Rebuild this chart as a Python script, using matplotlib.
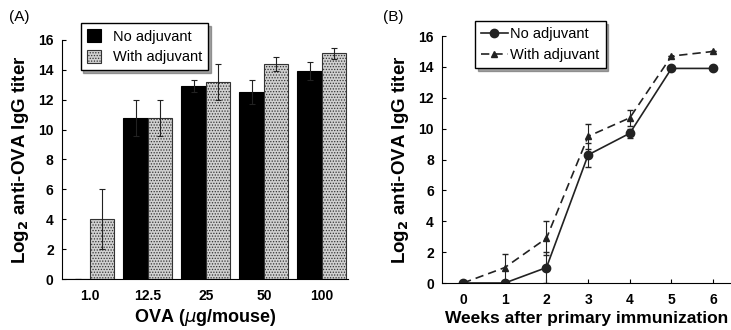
from matplotlib import pyplot as plt
import numpy

plt.rcParams['font.family'] = ['Liberation Sans', 'DejaVu Sans']
plt.rcParams['hatch.color'] = '#808080'
plt.rcParams['hatch.linewidth'] = 0.6

# panel A data
doses = ['1.0', '12.5', '25', '50', '100']
no_adj_A = [0.0, 10.8, 12.9, 12.5, 13.9]
no_adj_A_err = [0.0, 1.2, 0.4, 0.8, 0.6]
with_adj_A = [4.0, 10.8, 13.2, 14.4, 15.1]
with_adj_A_err = [2.0, 1.2, 1.2, 0.45, 0.35]

# panel B data
weeks = [0, 1, 2, 3, 4, 5, 6]
no_adj_B = [0.0, 0.0, 1.0, 8.3, 9.7, 13.9, 13.9]
no_adj_B_err = [0.0, 0.0, 1.0, 0.8, 0.3, 0.0, 0.0]
with_adj_B = [0.0, 1.0, 2.9, 9.5, 10.7, 14.7, 15.0]
with_adj_B_err = [0.0, 0.9, 1.1, 0.8, 0.5, 0.0, 0.0]

ylab = r'Log$_\mathbf{2}$ anti-OVA IgG titer'

fig = plt.figure(figsize=(7.31, 3.30), dpi=100)

##########################################################
# (A) bar chart
axA = fig.add_axes([0.0848, 0.1545, 0.3912, 0.7245])
x = numpy.arange(len(doses))
w = 0.42
axA.bar(x - w/2, no_adj_A, w, color='black', edgecolor='black', linewidth=0.8,
        yerr=no_adj_A_err, ecolor='#222222', capsize=2, error_kw=dict(elinewidth=0.8, capthick=0.8),
        label='No adjuvant')
axA.bar(x + w/2, with_adj_A, w, color='#d0d0d0', edgecolor='#333333', linewidth=0.8, hatch='......',
        yerr=with_adj_A_err, ecolor='#222222', capsize=2, error_kw=dict(elinewidth=0.8, capthick=0.8),
        label='With adjuvant')
axA.set_xlim(-0.48, 4.45)
axA.set_ylim(0, 16)
axA.set_yticks(numpy.arange(0, 17, 2))
axA.set_xticks(x)
axA.set_xticklabels(doses)
axA.tick_params(axis='x', length=0, pad=7)
axA.tick_params(axis='y', direction='in', length=3, pad=6)
axA.set_xlabel(r'OVA ($\mu$g/mouse)', fontsize=13, fontweight='bold', labelpad=3)
axA.set_ylabel(ylab, fontsize=13.5, fontweight='bold', labelpad=5)
lA = axA.legend(loc='upper left', bbox_to_anchor=(0.04, 1.1), fontsize=10.5, frameon=True,
                fancybox=False, shadow=True, handlelength=1.0, handleheight=1.0, handletextpad=0.8,
                borderpad=0.4, labelspacing=0.4)
lA.get_frame().set_edgecolor('black')
fig.text(0.012, 0.935, '(A)', fontsize=11)

##########################################################
# (B) time course
axB = fig.add_axes([0.605, 0.1424, 0.394, 0.7485])
axB.errorbar(weeks, no_adj_B, yerr=no_adj_B_err, fmt='none', ecolor='#222222', capsize=2, elinewidth=0.8)
axB.errorbar(weeks, with_adj_B, yerr=with_adj_B_err, fmt='none', ecolor='#222222', capsize=2, elinewidth=0.8)
axB.plot(weeks, no_adj_B, color='#222222', linestyle='-', linewidth=1.2,
         marker='o', markersize=6, label='No adjuvant')
axB.plot(weeks, with_adj_B, color='#222222', linestyle=(0, (5, 3)), linewidth=1.2,
         marker='^', markersize=5, label='With adjuvant')
axB.set_xlim(-0.5, 6.41)
axB.set_ylim(0, 16)
axB.set_yticks(numpy.arange(0, 17, 2))
axB.set_xticks(weeks)
axB.tick_params(axis='x', direction='in', length=3, pad=7)
axB.tick_params(axis='y', direction='in', length=3, pad=6)
axB.set_xlabel('Weeks after primary immunization', fontsize=12.5, fontweight='bold', labelpad=3)
axB.set_ylabel(ylab, fontsize=13.5, fontweight='bold', labelpad=5)
lB = axB.legend(loc='upper left', bbox_to_anchor=(0.09, 1.09), fontsize=10.5, frameon=True,
                fancybox=False, shadow=True, handlelength=1.8, handletextpad=0.2, borderpad=0.4,
                labelspacing=0.5)
lB.get_frame().set_edgecolor('black')
fig.text(0.524, 0.935, '(B)', fontsize=11)

for ax in (axA, axB):
	ax.spines['top'].set_visible(False)
	ax.spines['right'].set_visible(False)
	for lab in ax.get_xticklabels() + ax.get_yticklabels():
		lab.set_fontweight('bold')
		lab.set_fontsize(10)

plt.savefig('out.png', dpi=100)
